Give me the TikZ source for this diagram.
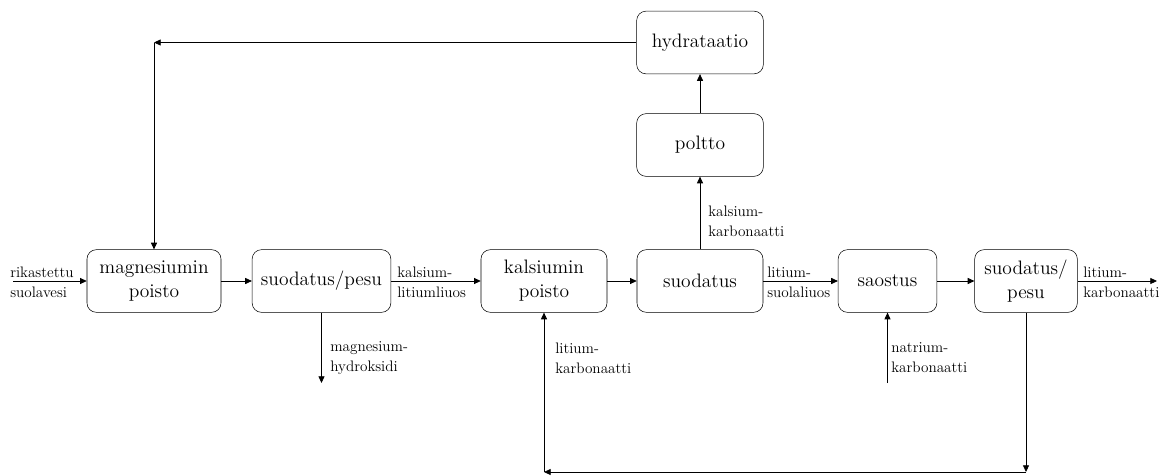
\documentclass[tikz,border=0pt]{standalone}
\usepackage{fontspec}
\usetikzlibrary{arrows.meta}

\begin{document}
\begin{tikzpicture}[x=0.75pt,y=-0.75pt,
    box/.style={draw,rounded corners=7pt,minimum height=47pt,align=center,inner sep=1pt,font=\fontsize{14.6}{18}\selectfont},
    lbl/.style={anchor=west,align=left,inner sep=0pt,font=\fontsize{11.4}{15}\selectfont},
    flow/.style={-{Triangle[length=5pt,width=4.5pt]},line width=0.6pt}]
\useasboundingbox (0,0) rectangle (1171,475);
\node[box,minimum width=100.5pt] (mg) at (154,281) {magnesiumin\\poisto};
\node[box,minimum width=104pt] (sp1) at (321.5,281) {suodatus/pesu};
\node[box,minimum width=94.5pt] (ca) at (544,281) {kalsiumin\\poisto};
\node[box,minimum width=94.5pt] (sd) at (700,281) {suodatus};
\node[box,minimum width=74pt] (sa) at (887.5,281) {saostus};
\node[box,minimum width=77pt] (sp2) at (1026,281) {suodatus/\\pesu};
\node[box,minimum width=95pt] (po) at (700,145) {poltto};
\node[box,minimum width=95pt] (hy) at (700,42.5) {hydrataatio};
\coordinate (in) at (13,281);
\coordinate (out) at (1157,281);
\coordinate (mgoh) at (321.5,383);
\coordinate (na) at (887.5,383);
\coordinate (top) at (154,42.5);
\coordinate (br) at (1026,472);
\coordinate (bl) at (544,472);
\node[lbl] at (10,282) {rikastettu\\suolavesi};
\node[lbl] at (397,282) {kalsium-\\litiumliuos};
\node[lbl] at (767,282) {litium-\\suolaliuos};
\node[lbl] at (1083,282) {litium-\\karbonaatti};
\node[lbl] at (330,358) {magnesium-\\hydroksidi};
\node[lbl] at (555,358) {litium-\\karbonaatti};
\node[lbl] at (891,358) {natrium-\\karbonaatti};
\node[lbl] at (708,221) {kalsium-\\karbonaatti};
\draw[flow] (in) -- (mg);
\draw[flow] (mg) -- (sp1);
\draw[flow] (sp1) -- (ca);
\draw[flow] (ca) -- (sd);
\draw[flow] (sd) -- (sa);
\draw[flow] (sa) -- (sp2);
\draw[flow] (sp2) -- (out);
\draw[flow] (sp1) -- (mgoh);
\draw[flow] (na) -- (sa);
\draw[flow] (sd) -- (po);
\draw[flow] (po) -- (hy);
\draw[flow] (hy) -- (top);
\draw[flow] (top) -- (mg);
\draw[flow] (sp2) -- (br);
\draw[flow] (br) -- (bl);
\draw[flow] (bl) -- (ca);
\end{tikzpicture}
\end{document}
